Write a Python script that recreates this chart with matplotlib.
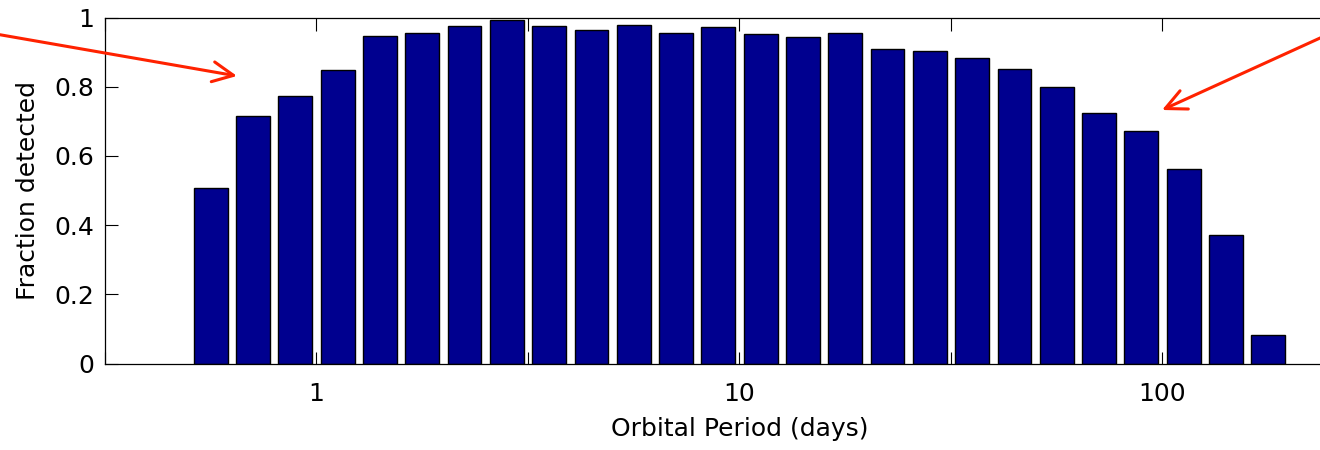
import numpy as np
import matplotlib
matplotlib.use("Agg")
import matplotlib.pyplot as plt
from matplotlib.patches import FancyArrowPatch
from matplotlib.ticker import FixedLocator, FixedFormatter, NullLocator

# Bin centres (days), log-spaced by 0.1 decade
periods = [0.562, 0.708, 0.891, 1.122, 1.413, 1.778, 2.239, 2.818, 3.548,
           4.467, 5.623, 7.079, 8.913, 11.22, 14.13, 17.78, 22.39, 28.18,
           35.48, 44.67, 56.23, 70.79, 89.13, 112.2, 141.3, 177.8]
fraction = [0.507, 0.714, 0.774, 0.848, 0.946, 0.954, 0.976, 0.993, 0.975,
            0.965, 0.978, 0.954, 0.973, 0.952, 0.943, 0.954, 0.910, 0.903,
            0.883, 0.850, 0.800, 0.723, 0.673, 0.561, 0.371, 0.082]
bar_width_dex = 0.08

xtick_vals = [10**-0.5, 1, 10**0.5, 10, 10**1.5, 100, 10**2.5]
xtick_labels = ["", "1", "", "10", "", "100", ""]
ytick_vals = [0, 0.2, 0.4, 0.6, 0.8, 1.0]
ytick_labels = ["0", "0.2", "0.4", "0.6", "0.8", "1"]

W, H = 1320, 450
fig = plt.figure(figsize=(W/100, H/100), dpi=100)
plt.rcParams['font.family'] = ['DejaVu Sans']

left, right_px = 105, 105 + 3*423
bottom_px, top_px = 363.5, 17.5
ax = fig.add_axes([left/W, (H-bottom_px)/H, (right_px-left)/W, (bottom_px-top_px)/H])

p = np.array(periods)
lefts = p * 10**(-bar_width_dex/2)
rights = p * 10**(bar_width_dex/2)
ax.bar(lefts, fraction, width=rights-lefts, align='edge',
       color='#00008F', edgecolor='black', linewidth=1.0, zorder=2)

ax.set_xscale('log')
ax.set_xlim(10**-0.5, 10**2.5)
ax.set_ylim(0, 1)
ax.xaxis.set_major_locator(FixedLocator(xtick_vals))
ax.xaxis.set_major_formatter(FixedFormatter(xtick_labels))
ax.xaxis.set_minor_locator(NullLocator())
ax.yaxis.set_major_locator(FixedLocator(ytick_vals))
ax.yaxis.set_major_formatter(FixedFormatter(ytick_labels))

ax.tick_params(axis='both', which='major', direction='in', length=9,
               width=0.8, top=True, right=True, labelsize=18, colors='black')
ax.tick_params(axis='x', pad=13)
ax.tick_params(axis='y', pad=8)
for s in ax.spines.values():
    s.set_linewidth(0.9)

ax.set_xlabel("Orbital Period (days)", fontsize=18, labelpad=8)
ax.set_ylabel("Fraction detected", fontsize=18, labelpad=10)

# red annotation arrows (figure pixel coordinates)
arrow_color = '#FF2200'
for start, tip in [((-10, H-33), (237, H-76)), ((1330, H-33.5), (1162, H-110))]:
    arr = FancyArrowPatch(posA=start, posB=tip, transform=None,
                          arrowstyle='->,head_length=0.75,head_width=0.36',
                          mutation_scale=20, color=arrow_color, linewidth=2.2,
                          capstyle='round', joinstyle='round',
                          shrinkA=0, shrinkB=0)
    fig.add_artist(arr)

fig.savefig("out.png", dpi=100)
